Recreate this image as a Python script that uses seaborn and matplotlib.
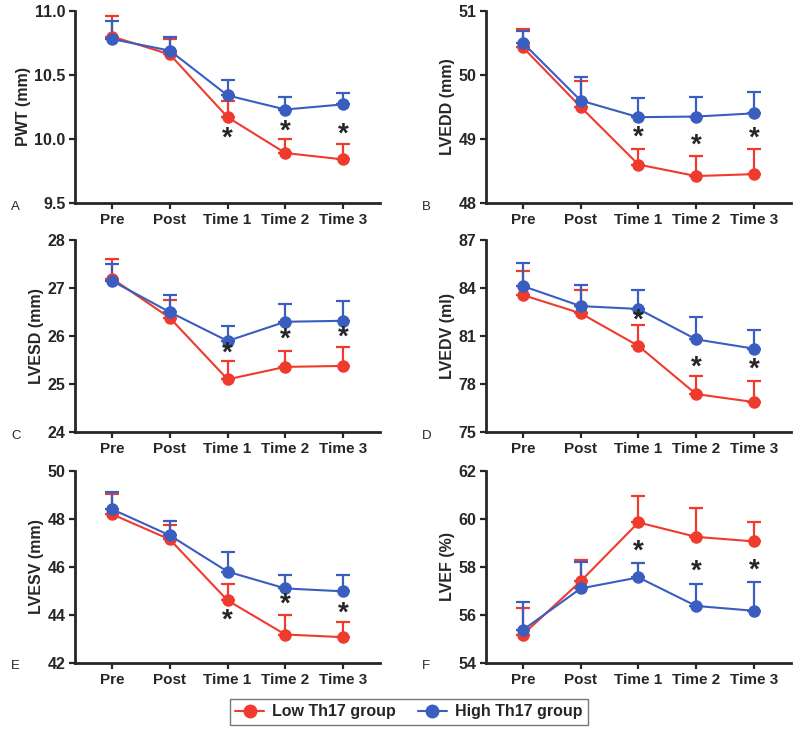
import numpy as np
import pandas as pd
import matplotlib.pyplot as plt
import seaborn as sns
from matplotlib.lines import Line2D

sns.set_style('ticks')
plt.rcParams['font.family'] = ['Liberation Sans', 'DejaVu Sans']
plt.rcParams['font.weight'] = 'bold'

tempos = ['Pre', 'Post', 'Time 1', 'Time 2', 'Time 3']
cor_low = '#EF3B2E'
cor_high = '#3A5EC0'

# medias e limite superior da barra de erro
pwt_low = [10.80, 10.66, 10.17, 9.89, 9.84]
pwt_low_up = [10.96, 10.78, 10.30, 10.00, 9.96]
pwt_high = [10.78, 10.69, 10.34, 10.23, 10.27]
pwt_high_up = [10.92, 10.80, 10.46, 10.33, 10.36]

lvedd_low = [50.43, 49.50, 48.60, 48.42, 48.45]
lvedd_low_up = [50.72, 49.90, 48.85, 48.73, 48.85]
lvedd_high = [50.50, 49.60, 49.34, 49.35, 49.40]
lvedd_high_up = [50.68, 49.97, 49.64, 49.66, 49.74]

lvesd_low = [27.20, 26.38, 25.10, 25.36, 25.38]
lvesd_low_up = [27.60, 26.75, 25.48, 25.69, 25.77]
lvesd_high = [27.15, 26.50, 25.90, 26.30, 26.32]
lvesd_high_up = [27.50, 26.86, 26.21, 26.68, 26.74]

lvedv_low = [83.57, 82.43, 80.39, 77.38, 76.88]
lvedv_low_up = [85.09, 83.90, 81.71, 78.52, 78.20]
lvedv_high = [84.13, 82.88, 82.70, 80.80, 80.22]
lvedv_high_up = [85.59, 84.22, 83.90, 82.20, 81.40]

lvesv_low = [48.19, 47.14, 44.60, 43.18, 43.07]
lvesv_low_up = [49.05, 47.75, 45.30, 44.00, 43.69]
lvesv_high = [48.40, 47.31, 45.80, 45.10, 44.98]
lvesv_high_up = [49.10, 47.92, 46.60, 45.68, 45.68]

lvef_low = [55.18, 57.40, 59.85, 59.25, 59.06]
lvef_low_up = [56.30, 58.30, 60.97, 60.47, 59.86]
lvef_high = [55.37, 57.10, 57.56, 56.37, 56.17]
lvef_high_up = [56.54, 58.20, 58.16, 57.27, 57.37]

# posicao dos asteriscos (Time 1, 2, 3)
ast_pwt = [10.00, 10.06, 10.03]
ast_lvedd = [49.02, 48.90, 49.00]
ast_lvesd = [25.64, 25.93, 25.97]
ast_lvedv = [81.95, 79.04, 78.90]
ast_lvesv = [43.76, 44.43, 44.04]
ast_lvef = [58.65, 57.82, 57.84]

paineis = [
    ('PWT (mm)', 'A', pwt_low, pwt_low_up, pwt_high, pwt_high_up, ast_pwt, [9.5, 10.0, 10.5, 11.0], '%.1f'),
    ('LVEDD (mm)', 'B', lvedd_low, lvedd_low_up, lvedd_high, lvedd_high_up, ast_lvedd, [48, 49, 50, 51], '%d'),
    ('LVESD (mm)', 'C', lvesd_low, lvesd_low_up, lvesd_high, lvesd_high_up, ast_lvesd, [24, 25, 26, 27, 28], '%d'),
    ('LVEDV (ml)', 'D', lvedv_low, lvedv_low_up, lvedv_high, lvedv_high_up, ast_lvedv, [75, 78, 81, 84, 87], '%d'),
    ('LVESV (mm)', 'E', lvesv_low, lvesv_low_up, lvesv_high, lvesv_high_up, ast_lvesv, [42, 44, 46, 48, 50], '%d'),
    ('LVEF (%)', 'F', lvef_low, lvef_low_up, lvef_high, lvef_high_up, ast_lvef, [54, 56, 58, 60, 62], '%d'),
]

# posicoes dos eixos em fracao da figura
lefts = [0.094, 0.6075]
bottoms = [0.722, 0.408, 0.092]
largura = 0.381
altura = 0.263

fig = plt.figure(figsize=(8, 7.3), dpi=100)
x = np.arange(len(tempos))

for i, (ylab, letra, low, low_up, high, high_up, ast, yt, fmt) in enumerate(paineis):
    ax = fig.add_axes([lefts[i % 2], bottoms[i // 2], largura, altura])
    for media, sup, cor in [(low, low_up, cor_low), (high, high_up, cor_high)]:
        media = np.array(media)
        sup = np.array(sup)
        ax.errorbar(x, media, yerr=[np.zeros(len(x)), sup - media], fmt='none',
                    ecolor=cor, elinewidth=1.6, capsize=5, capthick=1.6, zorder=2)
        sns.lineplot(x=x, y=media, color=cor, marker='o', markersize=9,
                     markeredgewidth=0, linewidth=1.5, ax=ax, zorder=3)
    for xi, yi in zip(x[2:], ast):
        ax.text(xi, yi, '*', ha='center', va='center', fontsize=20, fontweight='bold')
    ax.set_xlim(-0.64, 4.64)
    ax.set_ylim(yt[0], yt[-1])
    ax.set_yticks(yt)
    ax.set_yticklabels([fmt % v for v in yt], fontsize=11.5, fontweight='bold')
    ax.set_xticks(x)
    ax.set_xticklabels(tempos, fontsize=11, fontweight='bold')
    ax.set_ylabel(ylab, fontsize=11.5, fontweight='bold', labelpad=2.5)
    ax.set_xlabel('')
    sns.despine(ax=ax)
    for s in ['left', 'bottom']:
        ax.spines[s].set_linewidth(2)
    ax.tick_params(width=1.6, length=4, pad=3)
    fig.text(lefts[i % 2] - 0.08, bottoms[i // 2] - 0.005, letra, fontsize=9.5,
             fontweight='normal', va='center')

handles = [Line2D([], [], color=cor_low, marker='o', markersize=9, linewidth=1.5),
           Line2D([], [], color=cor_high, marker='o', markersize=9, linewidth=1.5)]
leg = fig.legend(handles, ['Low Th17 group', 'High Th17 group'], loc='center',
                 bbox_to_anchor=(0.511, 0.025), ncol=2, fancybox=False, frameon=True,
                 prop={'weight': 'bold', 'size': 11.5}, handlelength=1.8, columnspacing=1.4,
                 handletextpad=0.5, borderpad=0.35)
leg.get_frame().set_edgecolor('#555555')
leg.get_frame().set_linewidth(1.0)

fig.savefig('out.png', dpi=100)
